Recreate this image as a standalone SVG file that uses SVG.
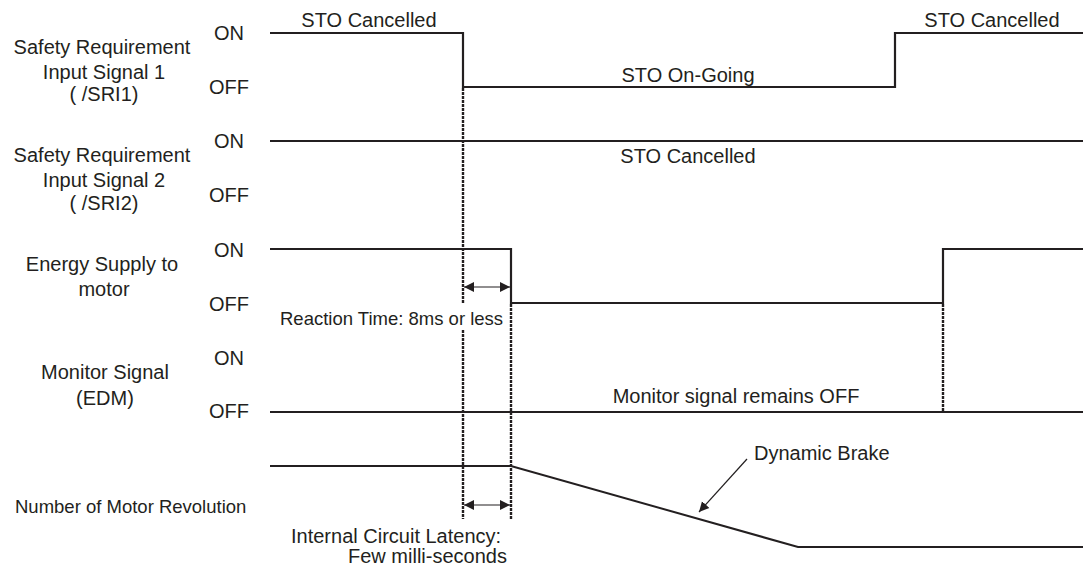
<svg xmlns="http://www.w3.org/2000/svg" width="1083" height="567" viewBox="0 0 1083 567">
<style>
text{font-family:"Liberation Sans",Arial,sans-serif;font-size:20px;fill:#231f20}
.m{text-anchor:middle}
.s{font-size:18.5px}
.sig{fill:none;stroke:#231f20;stroke-width:2.2}
.dot{fill:none;stroke:#231f20;stroke-width:2.4;stroke-dasharray:3 1}
.arr{fill:none;stroke:#231f20;stroke-width:1.2}
</style>
<defs>
<marker id="ah" markerWidth="12" markerHeight="12" refX="10" refY="6" orient="auto-start-reverse" markerUnits="userSpaceOnUse">
<path d="M0,1 L10,6 L0,11 Z" fill="#231f20"/>
</marker>
</defs>
<rect width="1083" height="567" fill="#fff"/>
<g id="labels">
<text class="m" x="102" y="54">Safety Requirement</text>
<text class="m" x="104" y="79">Input Signal 1</text>
<text class="m" x="104" y="101">( /SRI1)</text>
<text class="m" x="102" y="162">Safety Requirement</text>
<text class="m" x="104" y="187">Input Signal 2</text>
<text class="m" x="104" y="210">( /SRI2)</text>
<text class="m" x="102" y="271">Energy Supply to</text>
<text class="m" x="104" y="296">motor</text>
<text class="m" x="105" y="379">Monitor Signal</text>
<text class="m" x="105" y="405">(EDM)</text>
<text class="s" x="15" y="513">Number of Motor Revolution</text>
<text class="m" x="229" y="40">ON</text>
<text class="m" x="229" y="94">OFF</text>
<text class="m" x="229" y="148">ON</text>
<text class="m" x="229" y="202">OFF</text>
<text class="m" x="229" y="257">ON</text>
<text class="m" x="229" y="311">OFF</text>
<text class="m" x="229" y="365">ON</text>
<text class="m" x="229" y="418">OFF</text>
</g>
<g id="connectors">
<line class="dot" x1="463" y1="88" x2="463" y2="304"/>
<line class="dot" x1="463" y1="330" x2="463" y2="519"/>
<line class="dot" x1="511" y1="304" x2="511" y2="519"/>
<line class="dot" x1="943" y1="304" x2="943" y2="412"/>
<line class="arr" x1="464" y1="287" x2="510" y2="287" marker-start="url(#ah)" marker-end="url(#ah)"/>
<line class="arr" x1="464" y1="505" x2="510" y2="505" marker-start="url(#ah)" marker-end="url(#ah)"/>
<line class="arr" x1="747" y1="459" x2="699" y2="512" marker-end="url(#ah)"/>
</g>
<g id="sri1">
<polyline class="sig" points="270,33 463,33 463,87 895,87 895,33 1083,33"/>
<text class="m" x="369" y="27">STO Cancelled</text>
<text class="m" x="688" y="82">STO On-Going</text>
<text class="m" x="992" y="27">STO Cancelled</text>
</g>
<g id="sri2">
<line class="sig" x1="270" y1="141" x2="1083" y2="141"/>
<text class="m" x="688" y="163">STO Cancelled</text>
</g>
<g id="energy">
<polyline class="sig" points="270,249 511,249 511,303 943,303 943,249 1083,249"/>
<text class="s" x="280" y="325">Reaction Time: 8ms or less</text>
</g>
<g id="monitor">
<line class="sig" x1="270" y1="412" x2="1083" y2="412"/>
<text class="m" x="736" y="403">Monitor signal remains OFF</text>
</g>
<g id="revolution">
<polyline class="sig" points="270,466 511,466 798,547 1083,547" style="stroke-width:2"/>
<text x="754" y="460">Dynamic Brake</text>
<text x="291" y="543">Internal Circuit Latency:</text>
<text x="348" y="563">Few milli-seconds</text>
</g>
</svg>
